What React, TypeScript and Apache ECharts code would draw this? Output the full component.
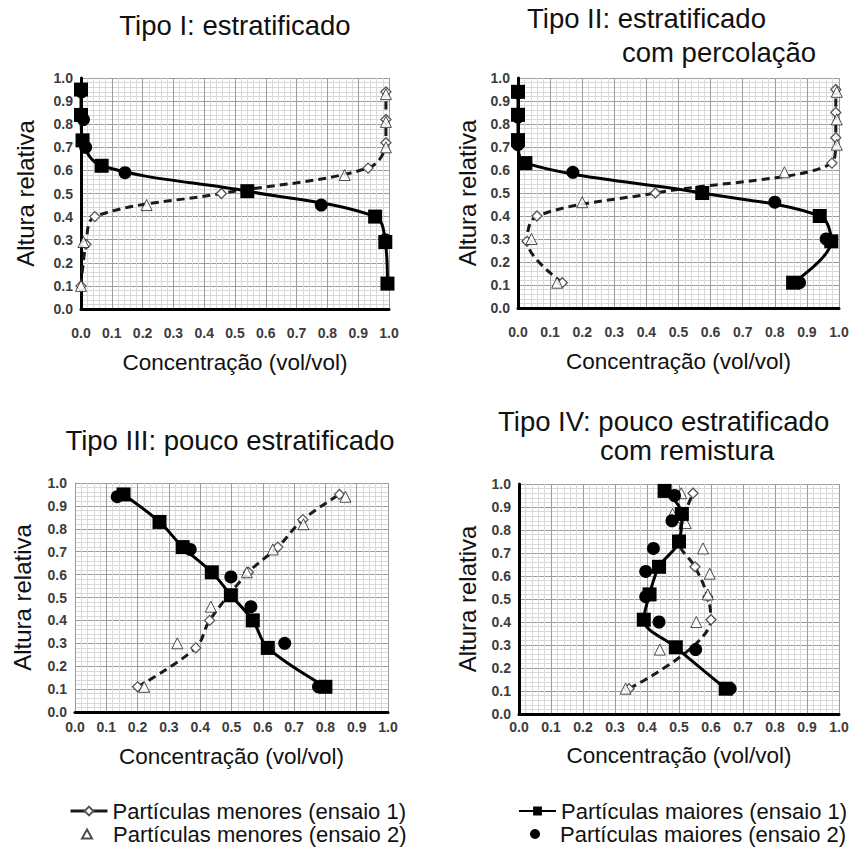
import React, { useEffect, useRef } from "react";
import * as echarts from "echarts";

const FONT = "'Liberation Sans', Arial, sans-serif";

const TITLES: string[][] = [
  ["Tipo I: estratificado"],
  ["Tipo II: estratificado", "com percolação"],
  ["Tipo III: pouco estratificado"],
  ["Tipo IV: pouco estratificado", "com remistura"],
];
const X_NAME = "Concentração (vol/vol)";
const Y_NAME = "Altura relativa";
const SERIES_NAMES = [
  "Partículas menores (ensaio 1)",
  "Partículas menores (ensaio 2)",
  "Partículas maiores (ensaio 1)",
  "Partículas maiores (ensaio 2)",
];

// Tipo I
const p1MenoresE1 = [[0.0, 0.1], [0.016, 0.28], [0.045, 0.4], [0.456, 0.5], [0.932, 0.61], [0.99, 0.72], [0.99, 0.82], [0.99, 0.94]];
const p1MenoresE2 = [[0.0, 0.1], [0.008, 0.29], [0.213, 0.45], [0.856, 0.58], [0.99, 0.7], [0.99, 0.81], [0.99, 0.93]];
const p1MaioresE1 = [[0.0, 0.95], [0.0, 0.84], [0.005, 0.73], [0.067, 0.62], [0.54, 0.51], [0.955, 0.4], [0.988, 0.29], [0.995, 0.11]];
const p1MaioresE2 = [[0.002, 0.94], [0.008, 0.82], [0.015, 0.7], [0.143, 0.59], [0.78, 0.45], [0.988, 0.3]];

// Tipo II
const p2MenoresE1 = [[0.138, 0.11], [0.028, 0.29], [0.059, 0.4], [0.428, 0.5], [0.978, 0.63], [0.99, 0.74], [0.99, 0.85], [0.99, 0.95]];
const p2MenoresE2 = [[0.122, 0.11], [0.042, 0.3], [0.2, 0.46], [0.83, 0.59], [0.993, 0.71], [0.993, 0.82], [0.993, 0.94]];
const p2MaioresE1 = [[0.0, 0.94], [0.0, 0.84], [0.0, 0.73], [0.023, 0.63], [0.574, 0.5], [0.94, 0.4], [0.976, 0.29], [0.857, 0.11]];
const p2MaioresE2 = [[0.0, 0.935], [0.0, 0.83], [0.0, 0.71], [0.171, 0.59], [0.8, 0.46], [0.96, 0.3], [0.877, 0.11]];

// Tipo III
const p3MenoresE1 = [[0.2, 0.11], [0.386, 0.28], [0.43, 0.4], [0.554, 0.61], [0.648, 0.72], [0.728, 0.84], [0.845, 0.95]];
const p3MenoresE2 = [[0.221, 0.11], [0.327, 0.3], [0.434, 0.46], [0.549, 0.61], [0.632, 0.71], [0.73, 0.82], [0.864, 0.94]];
const p3MaioresE1 = [[0.155, 0.95], [0.27, 0.83], [0.344, 0.72], [0.437, 0.61], [0.498, 0.51], [0.568, 0.4], [0.616, 0.28], [0.8, 0.11]];
const p3MaioresE2 = [[0.135, 0.94], [0.27, 0.83], [0.368, 0.71], [0.498, 0.59], [0.562, 0.46], [0.67, 0.3], [0.778, 0.11]];

// Tipo IV
const p4MenoresE1 = [[0.344, 0.11], [0.6, 0.41], [0.59, 0.51], [0.55, 0.64], [0.5, 0.75], [0.51, 0.84], [0.544, 0.96]];
const p4MenoresE2 = [[0.333, 0.11], [0.44, 0.28], [0.554, 0.4], [0.59, 0.52], [0.596, 0.61], [0.575, 0.72], [0.521, 0.83], [0.48, 0.87], [0.507, 0.96]];
const p4MaioresE1 = [[0.455, 0.97], [0.509, 0.87], [0.5, 0.75], [0.4375, 0.64], [0.408, 0.52], [0.39, 0.41], [0.49, 0.29], [0.646, 0.11]];
const p4MaioresE2 = [[0.486, 0.95], [0.478, 0.84], [0.42, 0.72], [0.396, 0.62], [0.396, 0.51], [0.4375, 0.4], [0.552, 0.28], [0.66, 0.11]];

const PANELS = [
  [p1MenoresE1, p1MenoresE2, p1MaioresE1, p1MaioresE2],
  [p2MenoresE1, p2MenoresE2, p2MaioresE1, p2MaioresE2],
  [p3MenoresE1, p3MenoresE2, p3MaioresE1, p3MaioresE2],
  [p4MenoresE1, p4MenoresE2, p4MaioresE1, p4MaioresE2],
];

// layout
const GRIDS = [
  { left: 81, top: 78, width: 308, height: 231 },
  { left: 518, top: 78, width: 321, height: 230 },
  { left: 75, top: 483, width: 313, height: 229 },
  { left: 519, top: 484, width: 320, height: 230 },
];
const X_LABEL_MARGIN = [17, 17, 8, 6];
const X_NAME_GAP = [42, 42, 33, 30];
const Y_NAME_GAP = [44, 39, 41, 40];
const X_AXIS_THICK = [true, true, true, true];
const Y_AXIS_THICK = [true, true, false, true];

const TITLE_POS = [
  [{ x: 235, y: 25.5, align: "center" }],
  [{ x: 527, y: 18.5, align: "left" }, { x: 622, y: 52.5, align: "left" }],
  [{ x: 230, y: 440, align: "center" }],
  [{ x: 498, y: 421.5, align: "left" }, { x: 600, y: 450.5, align: "left" }],
];

// legend placement: [left, top, itemWidth, itemHeight, textPadLeft]
const LEGEND_POS = [
  [69, 800, 37, 11, 0],
  [81, 823, 10, 9, 16],
  [518, 800, 37, 11, 0],
  [530, 823, 10, 10, 15],
];

function buildOption() {
  const grid = GRIDS.map((g) => ({ ...g, containLabel: false }));
  const labelStyle = {
    fontSize: 14,
    fontWeight: "bold" as const,
    color: "#3c3c3c",
    fontFamily: FONT,
    formatter: (v: number) => v.toFixed(1),
  };
  const xAxis = GRIDS.map((_, i) => ({
    type: "value",
    gridIndex: i,
    min: 0,
    max: 1,
    interval: 0.1,
    name: X_NAME,
    nameLocation: "middle",
    nameGap: X_NAME_GAP[i],
    nameTextStyle: { fontSize: 22.5, fontFamily: FONT, color: "#111" },
    axisLine: {
      show: true,
      onZero: false,
      lineStyle: X_AXIS_THICK[i] ? { color: "#000", width: 3 } : { color: "#999", width: 1 },
    },
    axisTick: { show: false },
    axisLabel: { ...labelStyle, margin: X_LABEL_MARGIN[i] },
    splitLine: { show: true, lineStyle: { color: "#9c9c9c", width: 1 } },
    minorTick: { show: false, splitNumber: 5 },
    minorSplitLine: { show: true, lineStyle: { color: "#d9d9d9", width: 1 } },
  }));
  const yAxis = GRIDS.map((_, i) => ({
    type: "value",
    gridIndex: i,
    min: 0,
    max: 1,
    interval: 0.1,
    name: Y_NAME,
    nameLocation: "middle",
    nameGap: Y_NAME_GAP[i],
    nameTextStyle: { fontSize: 24, fontFamily: FONT, color: "#111" },
    axisLine: {
      show: true,
      onZero: false,
      lineStyle: Y_AXIS_THICK[i] ? { color: "#000", width: 3 } : { color: "#999", width: 1 },
    },
    axisTick: { show: false },
    axisLabel: { ...labelStyle, margin: 8 },
    splitLine: { show: true, lineStyle: { color: "#9c9c9c", width: 1 } },
    minorTick: { show: false, splitNumber: 5 },
    minorSplitLine: { show: true, lineStyle: { color: "#d9d9d9", width: 1 } },
  }));

  const series: any[] = [];
  PANELS.forEach((p, i) => {
    series.push({
      name: SERIES_NAMES[0],
      type: "line",
      xAxisIndex: i,
      yAxisIndex: i,
      data: p[0],
      smooth: 0.35,
      symbol: "diamond",
      symbolSize: 10,
      showAllSymbol: true,
      lineStyle: { color: "#1a1a1a", width: 3, type: [8, 5] },
      itemStyle: { color: "#fff", borderColor: "#555", borderWidth: 1.3 },
      z: 2,
    });
    series.push({
      name: SERIES_NAMES[1],
      type: "scatter",
      xAxisIndex: i,
      yAxisIndex: i,
      data: p[1],
      symbol: "triangle",
      symbolSize: 11,
      itemStyle: { color: "#fff", borderColor: "#222", borderWidth: 1 },
      z: 3,
    });
    series.push({
      name: SERIES_NAMES[2],
      type: "line",
      xAxisIndex: i,
      yAxisIndex: i,
      data: p[2],
      smooth: 0.35,
      symbol: "rect",
      symbolSize: 14,
      showAllSymbol: true,
      lineStyle: { color: "#000", width: 3 },
      itemStyle: { color: "#000" },
      z: 4,
    });
    series.push({
      name: SERIES_NAMES[3],
      type: "scatter",
      xAxisIndex: i,
      yAxisIndex: i,
      data: p[3],
      symbol: "circle",
      symbolSize: 13,
      itemStyle: { color: "#000", opacity: 1 },
      z: 5,
    });
  });

  const graphic: any[] = [];
  TITLES.forEach((lines, i) => {
    lines.forEach((t, j) => {
      const pos = TITLE_POS[i][j];
      graphic.push({
        type: "text",
        x: pos.x,
        y: pos.y,
        style: {
          text: t,
          fontSize: 27.5,
          fontFamily: FONT,
          fill: "#111",
          align: pos.align,
          verticalAlign: "middle",
        },
      });
    });
  });

  const legend = SERIES_NAMES.map((name, k) => {
    const [left, top, w, h, pad] = LEGEND_POS[k];
    const item: any = { name };
    if (k === 0) item.lineStyle = { type: "solid", width: 3 };
    return {
      orient: "horizontal",
      left,
      top,
      itemWidth: w,
      itemHeight: h,
      padding: 0,
      selectedMode: false,
      textStyle: {
        fontSize: 22,
        fontFamily: FONT,
        color: "#111",
        lineHeight: 22,
        padding: [0, 0, 0, pad],
      },
      data: [item],
    };
  });

  return {
    animation: false,
    backgroundColor: "#fff",
    grid,
    xAxis,
    yAxis,
    series,
    graphic,
    legend,
  };
}

export default function App() {
  const ref = useRef<HTMLDivElement>(null);
  useEffect(() => {
    document.body.style.margin = "0";
    if (!ref.current) return;
    const chart = echarts.init(ref.current, undefined, { renderer: "svg" });
    chart.setOption(buildOption() as any);
    return () => chart.dispose();
  }, []);
  return <div ref={ref} style={{ width: 858, height: 848 }} />;
}
